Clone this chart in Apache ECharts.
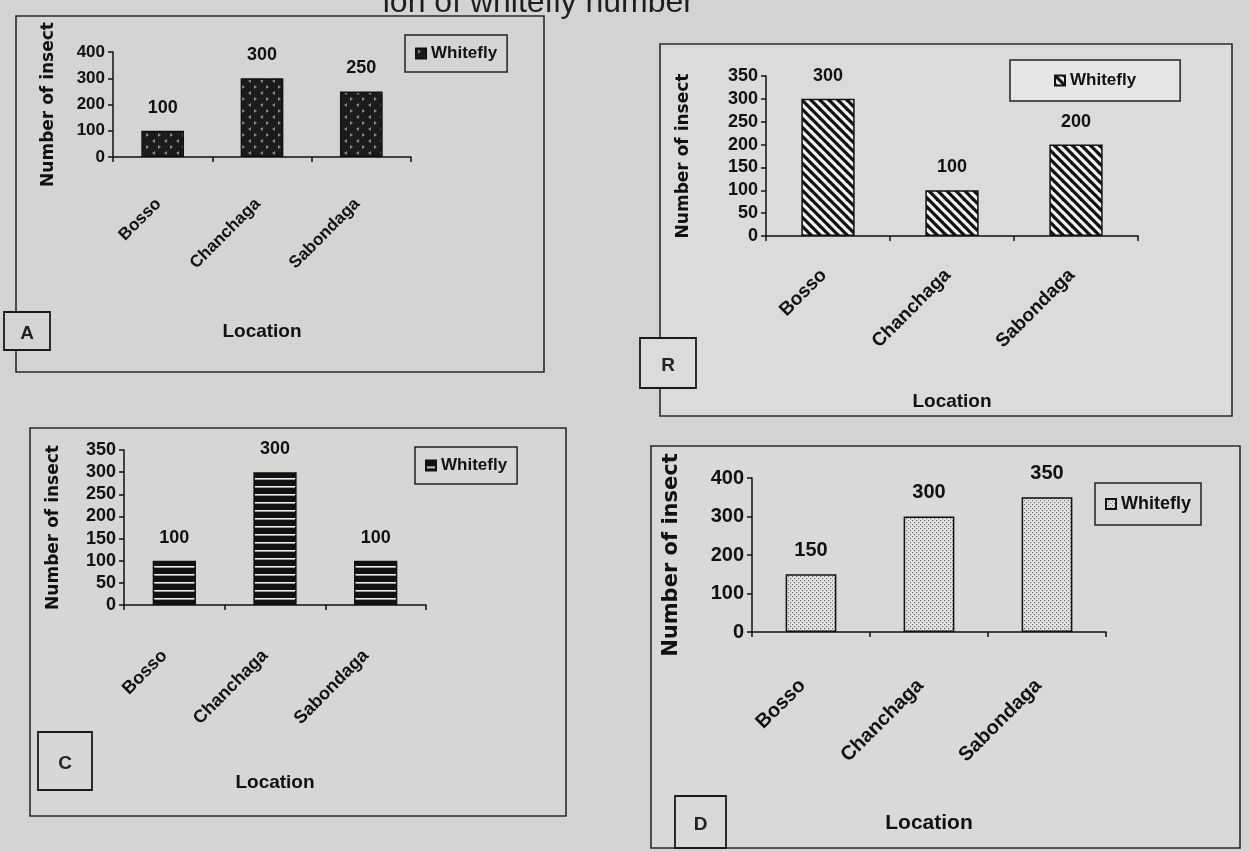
<!DOCTYPE html>
<html>
<head>
<meta charset="utf-8">
<script src="https://cdn.jsdelivr.net/npm/echarts@6/dist/echarts.min.js"></script>
<style>
html,body{margin:0;padding:0;background:#d3d3d1;}
#c{width:1250px;height:852px;}
</style>
</head>
<body>
<div id="c"></div>
<script>
// ---- data ----
const locations = ['Bosso', 'Chanchaga', 'Sabondaga'];
const whiteflyA = [100, 300, 250];
const whiteflyB = [300, 100, 200];
const whiteflyC = [100, 300, 100];
const whiteflyD = [150, 300, 350];
const seriesName = 'Whitefly';
const panelLetters = ['A', 'R', 'C', 'D'];
const yTitle = 'Number of insect';
const xTitle = 'Location';

// ---- patterns ----
function pat(w, h, draw) {
  const c = document.createElement('canvas');
  c.width = w; c.height = h;
  const g = c.getContext('2d');
  draw(g, w, h);
  return { image: c, repeat: 'repeat' };
}
const patA = pat(12, 12, (g) => {
  g.fillStyle = '#1b1b1b'; g.fillRect(0, 0, 12, 12);
  g.fillStyle = '#8a8a8a';
  g.beginPath(); g.moveTo(2, 1); g.lineTo(5, 3); g.lineTo(2, 5); g.closePath(); g.fill();
  g.beginPath(); g.moveTo(11, 7); g.lineTo(8, 9); g.lineTo(11, 11); g.closePath(); g.fill();
});
const patB = pat(9, 9, (g) => {
  g.fillStyle = '#f2f2f2'; g.fillRect(0, 0, 9, 9);
  g.strokeStyle = '#111'; g.lineWidth = 3.2;
  for (let k = -1; k <= 1; k++) {
    g.beginPath(); g.moveTo(k * 9 - 1, -1); g.lineTo(k * 9 + 10, 10); g.stroke();
  }
});
const patC = pat(4, 8, (g) => {
  g.fillStyle = '#111'; g.fillRect(0, 0, 4, 8);
  g.fillStyle = '#eeeeee'; g.fillRect(0, 6, 4, 1.6);
});
const patD = pat(4, 4, (g) => {
  g.fillStyle = '#e4e4e2'; g.fillRect(0, 0, 4, 4);
  g.fillStyle = '#6e6e6e';
  g.fillRect(0, 0, 1.2, 1.2); g.fillRect(2, 2, 1.2, 1.2);
});

const FONT = '"Liberation Sans", Arial, sans-serif';
const TFONT = '"DejaVu Sans", "Liberation Sans", sans-serif';

const panels = [
  { data: whiteflyA, color: patA, max: 400, interval: 100,
    grid: { left: 113, top: 52, width: 298, height: 105 },
    yGap: 56, xGap: 165, yFont: 17, xFont: 19, numFont: 17, valFont: 18, catFont: 17, catMargin: 40, catPad: 6, legFont: 17,
    legend: { left: 405, top: 35, padding: [10, 10] },
    box: [16, 16, 528, 356], lbl: [4, 312, 46, 38], fill: '#d4d4d2', legBg: 'transparent' },
  { data: whiteflyB, color: patB, max: 350, interval: 50,
    grid: { left: 766, top: 76, width: 372, height: 160 },
    yGap: 74, xGap: 156, yFont: 17, xFont: 19, numFont: 18, valFont: 18, catFont: 19, catMargin: 32, catPad: 6, legFont: 17,
    legend: { left: 1010, top: 60, padding: [12, 44] },
    box: [660, 44, 572, 372], lbl: [640, 338, 56, 50], fill: '#dbdbd9', legBg: '#e6e6e4' },
  { data: whiteflyC, color: patC, max: 350, interval: 50,
    grid: { left: 124, top: 450, width: 302, height: 155 },
    yGap: 62, xGap: 168, yFont: 17, xFont: 19, numFont: 18, valFont: 18, catFont: 18, catMargin: 38, catPad: 14, legFont: 17,
    legend: { left: 415, top: 447, padding: [10, 10] },
    box: [30, 428, 536, 388], lbl: [38, 732, 54, 58], fill: '#d6d6d4', legBg: 'transparent' },
  { data: whiteflyD, color: patD, max: 400, interval: 100,
    grid: { left: 752, top: 478, width: 354, height: 154 },
    yGap: 70, xGap: 181, yFont: 21, xFont: 21, numFont: 20, valFont: 20, catFont: 20, catMargin: 42, catPad: 12, legFont: 18,
    legend: { left: 1095, top: 483, padding: [12, 10] },
    box: [651, 446, 589, 402], lbl: [675, 796, 51, 52], fill: '#d9d9d7', legBg: 'transparent' }
];

const option = {
  backgroundColor: '#d3d3d1',
  animation: false,
  grid: [], xAxis: [], yAxis: [], series: [], legend: [],
  graphic: []
};

panels.forEach((p, i) => {
  const name = seriesName + ' ' + panelLetters[i];
  option.grid.push(Object.assign({ outerBoundsMode: 'none', containLabel: false }, p.grid));
  option.xAxis.push({
    type: 'category', gridIndex: i, data: locations,
    name: xTitle, nameLocation: 'middle', nameGap: p.xGap,
    nameTextStyle: { fontFamily: FONT, fontWeight: 'bold', fontSize: p.xFont, color: '#111' },
    axisLine: { lineStyle: { color: '#111', width: 1.5 } },
    axisTick: { show: true, length: 5, lineStyle: { color: '#111', width: 1.5 } },
    axisLabel: { rotate: 45, margin: p.catMargin, padding: [0, p.catPad, 0, 0], interval: 0,
      fontFamily: FONT, fontWeight: 'bold', fontSize: p.catFont, color: '#111' },
    splitLine: { show: false }
  });
  option.yAxis.push({
    type: 'value', gridIndex: i, min: 0, max: p.max, interval: p.interval,
    name: yTitle, nameLocation: 'middle', nameGap: p.yGap, nameRotate: 90,
    nameTextStyle: { fontFamily: TFONT, fontWeight: 'bold', fontSize: p.yFont, color: '#111' },
    axisLine: { show: true, lineStyle: { color: '#111', width: 1.5 } },
    axisTick: { show: true, length: 5, lineStyle: { color: '#111', width: 1.5 } },
    axisLabel: { margin: 8, fontFamily: FONT, fontWeight: 'bold', fontSize: p.numFont, color: '#111' },
    splitLine: { show: false }
  });
  option.series.push({
    type: 'bar', name: name, xAxisIndex: i, yAxisIndex: i, data: p.data,
    barWidth: '43%',
    itemStyle: { color: p.color, borderColor: '#111', borderWidth: 1.5 },
    label: { show: true, position: 'top', distance: 14, fontFamily: FONT, fontWeight: 'bold', fontSize: p.valFont, color: '#111' }
  });
  option.legend.push(Object.assign({
    data: [name], selectedMode: false, orient: 'vertical',
    formatter: () => seriesName,
    icon: 'rect', itemWidth: 10, itemHeight: 10, itemGap: 4,
    borderColor: '#222', borderWidth: 1.5, backgroundColor: p.legBg,
    textStyle: { fontFamily: FONT, fontWeight: 'bold', fontSize: p.legFont, color: '#111' }
  }, p.legend));
  option.graphic.push({
    type: 'rect', z: -10, silent: true,
    shape: { x: p.box[0], y: p.box[1], width: p.box[2], height: p.box[3] },
    style: { fill: p.fill, stroke: '#2a2a2a', lineWidth: 1.6 }
  });
  option.graphic.push({
    type: 'rect', z: 5, silent: true,
    shape: { x: p.lbl[0], y: p.lbl[1], width: p.lbl[2], height: p.lbl[3] },
    style: { fill: p.fill, stroke: '#1a1a1a', lineWidth: 1.8 }
  });
  option.graphic.push({
    type: 'text', z: 6, silent: true,
    x: p.lbl[0] + p.lbl[2] / 2, y: p.lbl[1] + p.lbl[3] / 2 + 3,
    style: { text: panelLetters[i], fontFamily: FONT, fontWeight: 'bold', fontSize: 19, fill: '#222', align: 'center', verticalAlign: 'middle' }
  });
});

option.graphic.push({
  type: 'text', silent: true, x: 694, y: 19,
  style: { text: 'ion of whitefly number', fontFamily: FONT, fontSize: 32, fill: '#1e1e1e', align: 'right', verticalAlign: 'bottom' }
});

const chart = echarts.init(document.getElementById('c'), null, { renderer: 'canvas' });
chart.setOption(option);
</script>
</body>
</html>
